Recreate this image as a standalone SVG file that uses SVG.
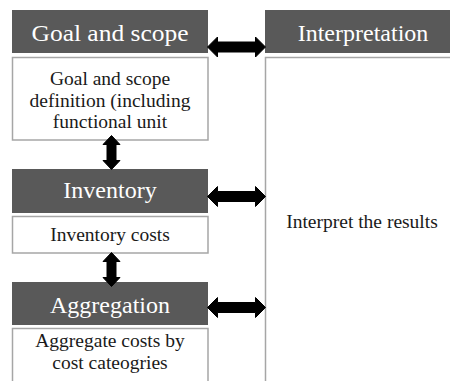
<svg xmlns="http://www.w3.org/2000/svg" width="450" height="381" viewBox="0 0 450 381" font-family="Liberation Serif, DejaVu Serif, serif">
  <style>
    .head { fill: #595959; }
    .box { fill: #ffffff; stroke: #a6a6a6; stroke-width: 1.5; }
    .htxt { font-size: 24px; fill: #ffffff; text-anchor: middle; }
    .btxt { font-size: 19.5px; fill: #1a1a1a; text-anchor: middle; }
    .arrow { fill: #000000; stroke: #000000; stroke-width: 1; stroke-linejoin: round; }
  </style>
  <defs>
    <!-- double-headed block arrows, centred on the origin -->
    <path id="harrow" class="arrow" d="M-29,0 L-19,-10 L-19,-5 L19,-5 L19,-10 L29,0 L19,10 L19,5 L-19,5 L-19,10 Z"/>
    <path id="varrow" class="arrow" d="M0,-17 L8.5,-8 L4.5,-8 L4.5,8 L8.5,8 L0,17 L-8.5,8 L-4.5,8 L-4.5,-8 L-8.5,-8 Z"/>
  </defs>
  <rect width="450" height="381" fill="#ffffff"/>

  <g id="goal">
    <rect class="head" x="12" y="10" width="196" height="43"/>
    <text class="htxt" x="110" y="41" font-family="Liberation Serif, serif" textLength="157" lengthAdjust="spacingAndGlyphs">Goal and scope</text>
    <rect class="box" x="12.5" y="57.5" width="195.5" height="82.5"/>
    <text class="btxt" x="110" y="85" font-family="Liberation Serif, serif">Goal and scope</text>
    <text class="btxt" x="110" y="107" font-family="Liberation Serif, serif">definition (including</text>
    <text class="btxt" x="110" y="128" font-family="Liberation Serif, serif">functional unit</text>
  </g>

  <g id="inventory">
    <rect class="head" x="12" y="169" width="196" height="44"/>
    <text class="htxt" x="110" y="198" font-family="Liberation Serif, serif">Inventory</text>
    <rect class="box" x="12.5" y="216.5" width="195.5" height="36.5"/>
    <text class="btxt" x="110" y="241" font-family="Liberation Serif, serif">Inventory costs</text>
  </g>

  <g id="aggregation">
    <rect class="head" x="12" y="282" width="196" height="43"/>
    <text class="htxt" x="110" y="313" font-family="Liberation Serif, serif">Aggregation</text>
    <rect class="box" x="12.5" y="328.5" width="195.5" height="60"/>
    <text class="btxt" x="110" y="347" font-family="Liberation Serif, serif">Aggregate costs by</text>
    <text class="btxt" x="110" y="369" font-family="Liberation Serif, serif">cost cateogries</text>
  </g>

  <g id="interpretation">
    <rect class="head" x="265" y="10" width="190" height="43"/>
    <text class="htxt" x="363" y="41" font-family="Liberation Serif, serif">Interpretation</text>
    <rect class="box" x="265.5" y="57.5" width="200" height="340"/>
    <text class="btxt" x="362" y="228" font-family="Liberation Serif, serif">Interpret the results</text>
  </g>

  <g id="connectors">
    <use href="#harrow" x="236.5" y="47"/>
    <use href="#harrow" x="236.5" y="196.5"/>
    <use href="#harrow" x="236.5" y="307.5"/>
    <use href="#varrow" x="111.5" y="152.5"/>
    <use href="#varrow" x="111.5" y="269.5"/>
  </g>
</svg>
